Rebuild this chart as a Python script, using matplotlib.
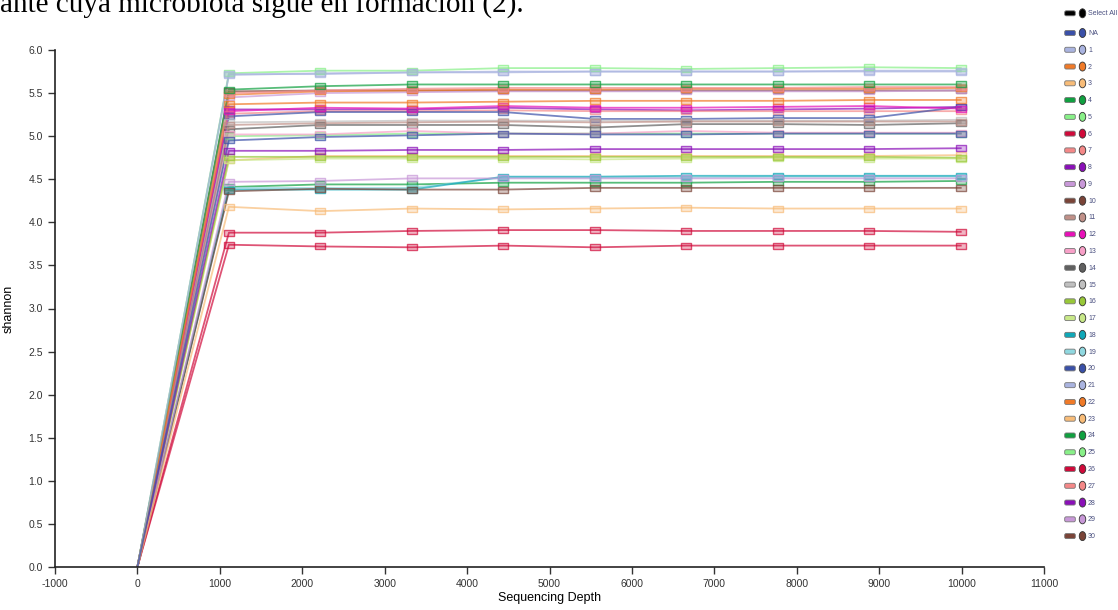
import matplotlib
matplotlib.use('Agg')
import matplotlib.pyplot as plt
from matplotlib.colors import to_rgba
from matplotlib.patches import FancyBboxPatch, Ellipse

depths = [0, 1110, 2220, 3330, 4440, 5550, 6660, 7770, 8880, 9990]

s_na = [0, 4.95, 4.99, 5.01, 5.03, 5.02, 5.02, 5.03, 5.03, 5.03]
s1 = [0, 5.72, 5.72, 5.74, 5.75, 5.75, 5.75, 5.75, 5.76, 5.76]
s2 = [0, 5.37, 5.39, 5.39, 5.40, 5.41, 5.41, 5.41, 5.42, 5.42]
s3 = [0, 4.18, 4.13, 4.16, 4.15, 4.16, 4.17, 4.16, 4.16, 4.16]
s4 = [0, 5.54, 5.58, 5.60, 5.60, 5.60, 5.60, 5.60, 5.60, 5.60]
s5 = [0, 5.73, 5.76, 5.76, 5.79, 5.79, 5.78, 5.79, 5.80, 5.79]
s6 = [0, 3.88, 3.88, 3.90, 3.91, 3.91, 3.90, 3.90, 3.90, 3.89]
s7 = [0, 5.50, 5.53, 5.55, 5.56, 5.56, 5.56, 5.56, 5.57, 5.57]
s8 = [0, 4.83, 4.83, 4.84, 4.84, 4.85, 4.85, 4.85, 4.85, 4.86]
s9 = [0, 4.47, 4.48, 4.51, 4.51, 4.51, 4.51, 4.51, 4.51, 4.51]
s10 = [0, 4.36, 4.39, 4.38, 4.38, 4.40, 4.40, 4.40, 4.40, 4.40]
s11 = [0, 5.13, 5.15, 5.16, 5.17, 5.16, 5.17, 5.17, 5.17, 5.17]
s12 = [0, 5.29, 5.33, 5.32, 5.35, 5.33, 5.33, 5.34, 5.35, 5.32]
s13 = [0, 5.02, 5.02, 5.06, 5.03, 5.03, 5.06, 5.04, 5.04, 5.04]
s14 = [0, 5.08, 5.13, 5.13, 5.13, 5.10, 5.14, 5.14, 5.13, 5.15]
s15 = [0, 5.16, 5.17, 5.18, 5.18, 5.18, 5.18, 5.18, 5.18, 5.19]
s16 = [0, 4.76, 4.76, 4.76, 4.76, 4.76, 4.76, 4.76, 4.76, 4.75]
s17 = [0, 4.72, 4.74, 4.74, 4.74, 4.73, 4.74, 4.75, 4.74, 4.74]
s18 = [0, 4.38, 4.38, 4.38, 4.53, 4.53, 4.54, 4.54, 4.54, 4.54]
s19 = [0, 4.40, 4.40, 4.40, 4.52, 4.52, 4.52, 4.53, 4.53, 4.53]
s20 = [0, 5.23, 5.28, 5.28, 5.28, 5.20, 5.20, 5.21, 5.21, 5.34]
s21 = [0, 5.71, 5.73, 5.74, 5.74, 5.75, 5.75, 5.75, 5.75, 5.75]
s22 = [0, 5.48, 5.52, 5.53, 5.54, 5.54, 5.55, 5.55, 5.55, 5.56]
s23 = [0, 4.72, 4.77, 4.77, 4.77, 4.77, 4.77, 4.77, 4.77, 4.78]
s24 = [0, 4.41, 4.44, 4.44, 4.46, 4.46, 4.46, 4.47, 4.47, 4.48]
s25 = [0, 5.00, 5.01, 5.03, 5.03, 5.03, 5.03, 5.03, 5.03, 5.03]
s26 = [0, 3.74, 3.72, 3.71, 3.73, 3.71, 3.73, 3.73, 3.73, 3.73]
s27 = [0, 5.26, 5.29, 5.29, 5.30, 5.29, 5.29, 5.29, 5.29, 5.29]
s28 = [0, 5.31, 5.31, 5.31, 5.33, 5.31, 5.30, 5.31, 5.32, 5.34]
s29 = [0, 5.45, 5.50, 5.51, 5.52, 5.52, 5.52, 5.52, 5.52, 5.53]
s30 = [0, 5.52, 5.53, 5.53, 5.53, 5.53, 5.53, 5.53, 5.53, 5.53]

labels = ['NA'] + [str(i) for i in range(1, 31)]
series = [s_na, s1, s2, s3, s4, s5, s6, s7, s8, s9, s10, s11, s12, s13, s14, s15,
          s16, s17, s18, s19, s20, s21, s22, s23, s24, s25, s26, s27, s28, s29, s30]

palette = ['#3a50a8', '#aab4e0', '#f07a28', '#f8bc78', '#10a040', '#88f088',
           '#d00a3a', '#f48888', '#8a10b8', '#c898d8', '#7a4438', '#c09088',
           '#e810b8', '#f8a0c8', '#606060', '#c0c0c0', '#98c838', '#c8e888',
           '#10a8b8', '#90d8e0']
colors = [palette[i % 20] for i in range(31)]

plt.rcParams['font.family'] = ['Liberation Sans', 'DejaVu Sans']
plt.rcParams['axes.unicode_minus'] = False

fig = plt.figure(figsize=(11.18, 6.10), dpi=100)
ax = fig.add_axes([55 / 1118, 43 / 610, 989 / 1118, 517 / 610])

rect = [(-1.8, -1), (1.8, -1), (1.8, 1), (-1.8, 1), (-1.8, -1)]
# draw in reverse so the first samples end up on top
for lab, vals, c in reversed(list(zip(labels, series, colors))):
    ax.plot(depths, vals, color=c, lw=1.3, alpha=0.7, zorder=2)
    ax.plot(depths[1:], vals[1:], ls='none', marker=rect, ms=7.5,
            mfc=to_rgba(c, 0.3), mec=to_rgba(c, 0.7), mew=1.0, zorder=3)

ax.set_xlim(-1000, 11000)
ax.set_ylim(0, 6)
ax.set_xticks(range(-1000, 11001, 1000))
ax.set_yticks([i / 2 for i in range(13)])
ax.set_yticklabels(['%.1f' % (i / 2) for i in range(13)])
ax.tick_params(labelsize=7.5, colors='#333333', length=5, width=1)
for side in ['top', 'right']:
    ax.spines[side].set_visible(False)
for side in ['left', 'bottom']:
    ax.spines[side].set_color('#222222')
    ax.spines[side].set_linewidth(1.2)
ax.set_xlabel('Sequencing Depth', fontsize=9, labelpad=2)
ax.set_ylabel('shannon', fontsize=9, labelpad=10)

fig.text(0.0, 1 - 12 / 610, 'ante cuya microbiota sigue en formación (2).',
         family='Liberation Serif', fontsize=21, va='baseline', ha='left')

# custom legend on the right, pixel coordinates
lg = fig.add_axes([0, 0, 1, 1])
lg.set_xlim(0, 1118)
lg.set_ylim(610, 0)
lg.axis('off')
leg_labels = ['Select All'] + labels
leg_colors = ['#000000'] + colors
for i, (lab, c) in enumerate(zip(leg_labels, leg_colors)):
    y = 13.3 if i == 0 else 33 + (i - 1) * 16.77
    lg.add_patch(FancyBboxPatch((1065, y - 2.2), 10, 4.4, boxstyle='round,pad=0.3,rounding_size=1.5',
                                fc=c, ec='#777777', lw=0.6))
    lg.add_patch(Ellipse((1082.5, y), 6.5, 9, fc=c, ec='#333333', lw=0.6))
    lg.text(1088, y + 0.5, lab, fontsize=5, color='#4a5080', va='center', ha='left')

fig.savefig('out.png', dpi=100)
